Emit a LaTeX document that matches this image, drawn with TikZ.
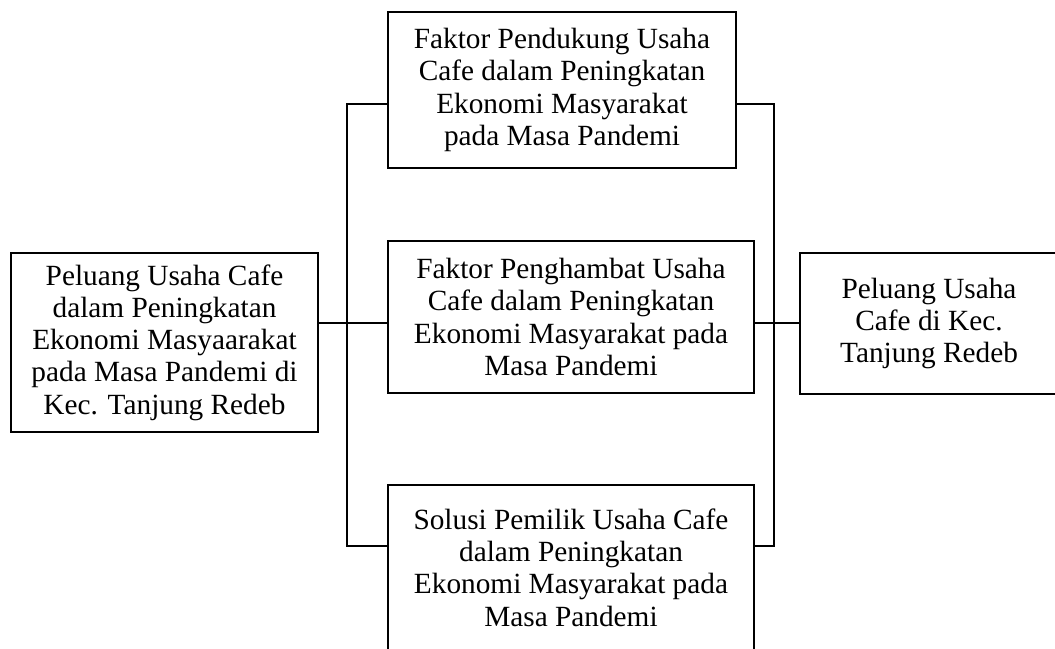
\documentclass[tikz,border=0pt]{standalone}
\usepackage{fontspec}
\setmainfont{Liberation Serif}
\usepackage{tikz}
\usetikzlibrary{positioning}
\begin{document}
\begin{tikzpicture}[%
x=1pt, y=-1pt, line width=1.5pt,
box/.style={draw, shape=rectangle, align=center, inner sep=0pt, font=\fontsize{29.3}{32.3}\selectfont},
link/.style={draw, line width=1.5pt}
]
\useasboundingbox (0,0) rectangle (1055,648);
\node[box, minimum width=307, minimum height=179] (pu) at (164.5,342.5) {Peluang Usaha Cafe\\dalam Peningkatan\\Ekonomi Masyaarakat\\pada Masa Pandemi di\\Kec. Tanjung Redeb};
\node[box, minimum width=348, minimum height=156] (fp) at (562,90) {Faktor Pendukung Usaha\\Cafe dalam Peningkatan\\Ekonomi Masyarakat\\pada Masa Pandemi};
\node[box, minimum width=366, minimum height=152] (fh) at (571,317) {Faktor Penghambat Usaha\\Cafe dalam Peningkatan\\Ekonomi Masyarakat pada\\Masa Pandemi};
\node[box, minimum width=366, minimum height=165] (sp) at (571,567.5) {Solusi Pemilik Usaha Cafe\\dalam Peningkatan\\Ekonomi Masyarakat pada\\Masa Pandemi};
\node[box, minimum width=258, minimum height=141] (pk) at (929,323.5) {Peluang Usaha\\Cafe di Kec.\\Tanjung Redeb};
\coordinate (ltop) at (347,104);
\coordinate (lmid) at (347,323);
\coordinate (lbot) at (347,546);
\coordinate (rtop) at (774,104);
\coordinate (rmid) at (774,323);
\coordinate (rbot) at (774,546);
\draw[link] (pu.east |- lmid) -- (fh.west |- lmid);
\draw[link] (fp.west |- ltop) -- (ltop) -- (lbot) -- (sp.west |- lbot);
\draw[link] (fp.east |- rtop) -- (rtop) -- (rbot) -- (sp.east |- rbot);
\draw[link] (fh.east |- rmid) -- (pk.west |- rmid);
\end{tikzpicture}
\end{document}
